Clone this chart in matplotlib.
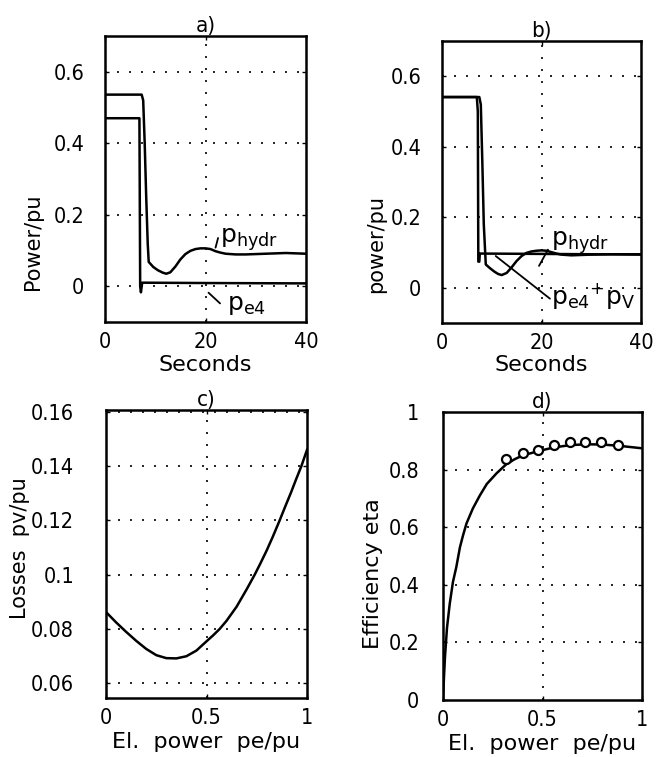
import matplotlib
matplotlib.use("Agg")
import matplotlib.pyplot as plt
from matplotlib.ticker import FixedLocator, FuncFormatter

# =========================
# data
# =========================
# a) power vs time
t_hydr_a = [0, 7.3, 7.6, 7.9, 8.2, 8.5, 8.7, 9.6, 10.5, 11.5, 12.2, 13.0, 14.0, 15.0, 16.0,
            17.0, 18.0, 19.0, 20.0, 21.0, 22.0, 23.0, 24.0, 26.0, 28.0, 30.0, 32.0, 34.0,
            36.0, 38.0, 40.0]
p_hydr_a = [0.536, 0.536, 0.52, 0.40, 0.25, 0.12, 0.068, 0.054, 0.045, 0.038, 0.035, 0.039,
            0.055, 0.075, 0.09, 0.099, 0.104, 0.106, 0.106, 0.104, 0.098, 0.094, 0.091, 0.089,
            0.089, 0.090, 0.091, 0.092, 0.093, 0.092, 0.091]
t_e4_a = [0, 6.85, 7.0, 7.15, 7.4, 20.0, 40.0]
p_e4_a = [0.47, 0.47, 0.0, -0.017, 0.010, 0.009, 0.008]

# b) power vs time
t_e4v_b = [0, 7.0, 7.2, 7.3, 7.5, 7.6, 20.0, 30.0, 40.0]
p_e4v_b = [0.541, 0.541, 0.50, 0.074, 0.074, 0.097, 0.096, 0.095, 0.095]
t_hydr_b = [0, 7.5, 7.8, 8.1, 8.4, 8.8, 9.6, 10.5, 11.3, 12.0, 13.0, 14.0, 15.0, 16.0, 17.0,
            18.0, 19.0, 20.0, 21.0, 22.0, 23.0, 24.0, 26.0, 28.0, 30.0, 34.0, 40.0]
p_hydr_b = [0.541, 0.541, 0.52, 0.36, 0.18, 0.066, 0.056, 0.046, 0.039, 0.036, 0.042, 0.058,
            0.076, 0.090, 0.099, 0.103, 0.105, 0.106, 0.105, 0.101, 0.097, 0.094, 0.092,
            0.093, 0.094, 0.095, 0.094]

# c) losses vs electrical power
pe_c = [0, 0.05, 0.1, 0.15, 0.2, 0.25, 0.3, 0.35, 0.4, 0.45, 0.5, 0.533, 0.566, 0.6,
        0.65, 0.7, 0.74, 0.77, 0.8, 0.83, 0.864, 0.89, 0.92, 0.945, 0.972, 1.0]
loss_c = [0.0862, 0.0824, 0.0789, 0.0756, 0.0726, 0.0703, 0.0692, 0.0691, 0.0699, 0.0720,
          0.0754, 0.0776, 0.0800, 0.0830, 0.0882, 0.0946, 0.1000, 0.1044, 0.1090, 0.1140,
          0.1200, 0.1248, 0.1302, 0.1350, 0.1400, 0.1460]

# d) efficiency vs electrical power
pe_d = [0.0, 0.005, 0.01, 0.02, 0.034, 0.05, 0.067, 0.085, 0.1, 0.118, 0.15, 0.185, 0.22,
        0.269, 0.317, 0.36, 0.4, 0.478, 0.557, 0.64, 0.72, 0.8, 0.88, 1.0]
eta_d = [0.0, 0.08, 0.15, 0.25, 0.335, 0.41, 0.462, 0.53, 0.57, 0.613, 0.665, 0.71, 0.75,
         0.787, 0.818, 0.836, 0.849, 0.864, 0.877, 0.885, 0.888, 0.887, 0.883, 0.874]
pe_meas = [0.317, 0.400, 0.478, 0.557, 0.638, 0.716, 0.794, 0.877]
eta_meas = [0.836, 0.857, 0.868, 0.885, 0.895, 0.895, 0.895, 0.885]

# =========================
# style
# =========================
plt.rcParams["font.family"] = ["DejaVu Sans"]
plt.rcParams["font.stretch"] = "condensed"
plt.rcParams["mathtext.default"] = "regular"
FS = 15.5        # tick labels, titles
FS_LAB = 16      # axis labels
FS_ANN = 18      # curve annotations
LW = 1.8
GRID = dict(color="black", linestyle=(0, (1.2, 6)), linewidth=1.2)

W, H = 660, 757
fig = plt.figure(figsize=(W / 100, H / 100), dpi=100)


def add_axes(left, top, right, bottom):
    return fig.add_axes([left / W, 1 - bottom / H, (right - left) / W, (bottom - top) / H])


def style_axes(ax, title, xticks, yticks, xgrid, ygrid, fmt="%g"):
    for s in ax.spines.values():
        s.set_linewidth(1.8)
    ax.xaxis.set_major_locator(FixedLocator(xticks))
    ax.yaxis.set_major_locator(FixedLocator(yticks))
    ax.yaxis.set_major_formatter(FuncFormatter(lambda v, p: fmt % v))
    ax.xaxis.set_major_formatter(FuncFormatter(lambda v, p: "%g" % v))
    ax.tick_params(direction="in", length=3, width=1, labelsize=FS,
                   top=True, right=True)
    ax.tick_params(axis="y", pad=15)
    ax.tick_params(axis="x", pad=7)
    for x in xgrid:
        ax.axvline(x, **GRID, zorder=0)
    for y in ygrid:
        ax.axhline(y, **GRID, zorder=0)
    ax.set_title(title, fontsize=FS + 0.5, pad=3)


def set_labels(ax, xlabel, ylabel, xl_y, yl_x, yl_y, xl_fs=FS_LAB, yl_fs=15):
    ax.set_xlabel(xlabel, fontsize=xl_fs, fontstretch="normal")
    ax.set_ylabel(ylabel, fontsize=yl_fs, fontstretch="normal")
    ax.xaxis.set_label_coords(0.5, xl_y)
    ax.xaxis.label.set_va("center")
    ax.yaxis.set_label_coords(yl_x, yl_y)
    ax.yaxis.label.set_va("center")
    ax.yaxis.label.set_ha("center")


line_kw = dict(color="black", linewidth=LW)
ptr_kw = dict(arrowstyle="-", color="black", linewidth=1.3, shrinkA=0, shrinkB=0)
ann_kw = dict(fontsize=FS_ANN, fontstretch="normal", va="center", ha="left")

# ---- a)
ax_a = add_axes(105, 36, 306, 322)
ax_a.plot(t_hydr_a, p_hydr_a, **line_kw)
ax_a.plot(t_e4_a, p_e4_a, **line_kw)
ax_a.set_xlim(0, 40)
ax_a.set_ylim(-0.1, 0.7)
style_axes(ax_a, "a)", [0, 20, 40], [0, 0.2, 0.4, 0.6], [20], [0, 0.2, 0.4, 0.6])
set_labels(ax_a, "Seconds", "Power/pu", -0.15, -0.36, 0.28)
ax_a.annotate("", xy=(22.5, 0.135), xytext=(22.0, 0.108), arrowprops=ptr_kw)
ax_a.text(22.9, 0.130, r"p$_{hydr}$", **ann_kw)
ax_a.annotate("", xy=(22.9, -0.048), xytext=(20.6, -0.018), arrowprops=ptr_kw)
ax_a.text(24.2, -0.052, r"p$_{e4}$", **ann_kw)

# ---- b)
ax_b = add_axes(442, 41, 641, 323)
ax_b.plot(t_e4v_b, p_e4v_b, **line_kw)
ax_b.plot(t_hydr_b, p_hydr_b, **line_kw)
ax_b.set_xlim(0, 40)
ax_b.set_ylim(-0.1, 0.7)
style_axes(ax_b, "b)", [0, 20, 40], [0, 0.2, 0.4, 0.6], [20], [0, 0.2, 0.4, 0.6])
set_labels(ax_b, "Seconds", "power/pu", -0.15, -0.33, 0.28)
ax_b.annotate("", xy=(21.3, 0.108), xytext=(19.5, 0.062), arrowprops=ptr_kw)
ax_b.text(21.9, 0.127, r"p$_{hydr}$", **ann_kw)
ax_b.annotate("", xy=(21.7, -0.031), xytext=(10.8, 0.090), arrowprops=ptr_kw)
ax_b.text(21.9, -0.022, r"p$_{e4}$$^{+}$p$_{V}$", **ann_kw)

# ---- c)
ax_c = add_axes(106, 410, 307, 698)
ax_c.plot(pe_c, loss_c, **line_kw)
ax_c.set_xlim(0, 1)
ax_c.set_ylim(0.0545, 0.1607)
style_axes(ax_c, "c)", [0, 0.5, 1], [0.06, 0.08, 0.1, 0.12, 0.14, 0.16], [0.5],
           [0.06, 0.08, 0.1, 0.12, 0.14, 0.16])
ax_c.tick_params(axis="y", pad=23)
set_labels(ax_c, "El.  power  pe/pu", "Losses  pv/pu", -0.153, -0.43, 0.52)

# ---- d)
ax_d = add_axes(443, 412, 642, 700)
ax_d.plot(pe_d, eta_d, **line_kw)
ax_d.plot(pe_meas, eta_meas, linestyle="none", marker="o", markersize=6.5,
          markerfacecolor="white", markeredgecolor="black", markeredgewidth=1.6)
ax_d.set_xlim(0, 1)
ax_d.set_ylim(0, 1)
style_axes(ax_d, "d)", [0, 0.5, 1], [0, 0.2, 0.4, 0.6, 0.8, 1], [0.5],
           [0.2, 0.4, 0.6, 0.8])
ax_d.tick_params(axis="y", pad=17)
set_labels(ax_d, "El.  power  pe/pu", "Efficiency eta", -0.153, -0.35, 0.44, yl_fs=16)

fig.savefig("out.png", dpi=100)
